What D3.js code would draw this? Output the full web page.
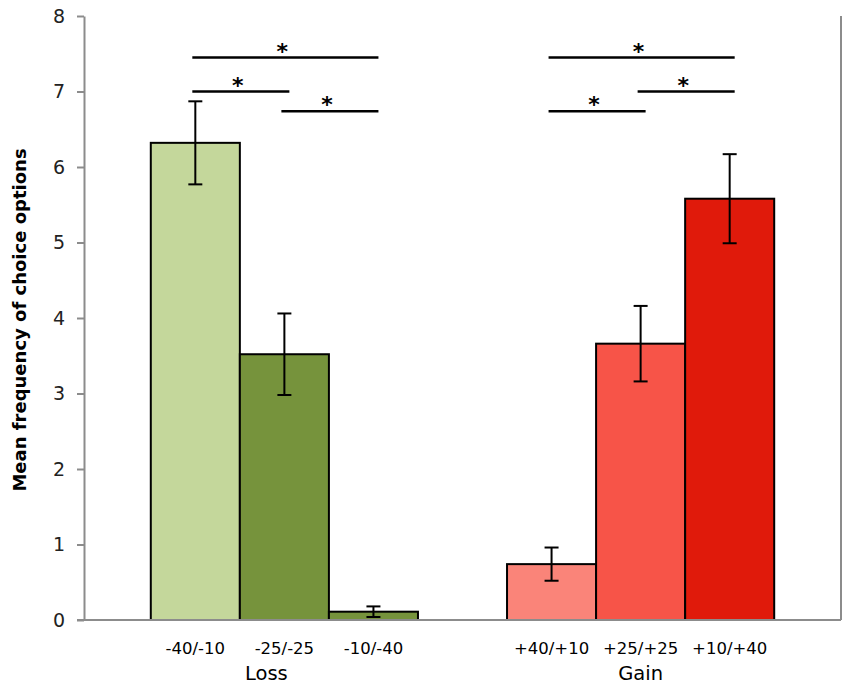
<!DOCTYPE html>
<html>
<head>
<meta charset="utf-8">
<script src="https://cdn.jsdelivr.net/npm/d3@7"></script>
<style>
  body { margin: 0; background: #fff; }
  svg { display: block; }
</style>
</head>
<body>
<div id="chart"></div>
<script>
// Bar data (left to right; the empty slot is the gap between the groups)
const slots = ["-40/-10", "-25/-25", "-10/-40", "gap", "+40/+10", "+25/+25", "+10/+40"];
const barLabels = ["-40/-10", "-25/-25", "-10/-40", "+40/+10", "+25/+25", "+10/+40"];
const barMeans = [6.32, 3.52, 0.11, 0.74, 3.66, 5.58];
const barErrors = [0.55, 0.54, 0.07, 0.22, 0.50, 0.59];
const barColors = ["#c4d79b", "#76933c", "#76933c", "#fa8479", "#f75448", "#e01a0b"];

const groupNames = ["Loss", "Gain"];
const groupMembers = [["-40/-10", "-25/-25", "-10/-40"], ["+40/+10", "+25/+25", "+10/+40"]];

// Significance brackets: from bar, to bar, height in y units
const sigFrom = ["-40/-10", "-40/-10", "-25/-25", "+40/+10", "+25/+25", "+40/+10"];
const sigTo = ["-10/-40", "-25/-25", "-10/-40", "+10/+40", "+10/+40", "+25/+25"];
const sigLevel = [7.45, 7.0, 6.74, 7.45, 7.0, 6.74];

const yTicks = [0, 1, 2, 3, 4, 5, 6, 7, 8];

const width = 850, height = 690;
const margin = { top: 16, right: 9, bottom: 70, left: 84 };
const font = "'DejaVu Sans', Verdana, sans-serif";

const svg = d3.select("#chart").append("svg")
    .attr("width", width)
    .attr("height", height);

svg.append("rect")
    .attr("width", width)
    .attr("height", height)
    .attr("fill", "#fff");

const x = d3.scaleBand()
    .domain(slots)
    .range([margin.left, width - margin.right])
    .paddingInner(0)
    .paddingOuter(0.75);

const y = d3.scaleLinear()
    .domain([0, 8])
    .range([height - margin.bottom, margin.top]);

const cx = d => x(d) + x.bandwidth() / 2;

// Y axis
const yAxis = svg.append("g")
    .attr("transform", `translate(${margin.left},0)`)
    .call(d3.axisLeft(y).tickValues(yTicks).tickSize(7).tickSizeOuter(0).tickPadding(12));
yAxis.select(".domain").attr("stroke", "#8c8c8c").attr("stroke-width", 2);
yAxis.selectAll(".tick line").attr("stroke", "#8c8c8c").attr("stroke-width", 2);
yAxis.selectAll(".tick text")
    .attr("font-family", font)
    .attr("font-size", "19px")
    .attr("fill", "#222");

// Right frame line
svg.append("line")
    .attr("x1", width - margin.right).attr("x2", width - margin.right)
    .attr("y1", y(8)).attr("y2", y(0))
    .attr("stroke", "#8c8c8c")
    .attr("stroke-width", 2);

// Bars
svg.selectAll(".bar")
    .data(barLabels)
    .enter().append("rect")
    .attr("class", "bar")
    .attr("x", d => x(d))
    .attr("y", (d, i) => y(barMeans[i]))
    .attr("width", x.bandwidth())
    .attr("height", (d, i) => y(0) - y(barMeans[i]))
    .attr("fill", (d, i) => barColors[i])
    .attr("stroke", "#000")
    .attr("stroke-width", 2);

// Baseline
svg.append("line")
    .attr("x1", margin.left - 7).attr("x2", width - margin.right)
    .attr("y1", y(0)).attr("y2", y(0))
    .attr("stroke", "#8c8c8c")
    .attr("stroke-width", 2);

// Error bars
const capHalf = 7;
barLabels.forEach((d, i) => {
    const top = y(barMeans[i] + barErrors[i]);
    const bot = y(Math.max(0, barMeans[i] - barErrors[i]));
    const g = svg.append("g").attr("stroke", "#000").attr("stroke-width", 2);
    g.append("line").attr("x1", cx(d)).attr("x2", cx(d)).attr("y1", top).attr("y2", bot);
    g.append("line").attr("x1", cx(d) - capHalf).attr("x2", cx(d) + capHalf).attr("y1", top).attr("y2", top);
    g.append("line").attr("x1", cx(d) - capHalf).attr("x2", cx(d) + capHalf).attr("y1", bot).attr("y2", bot);
});

// Significance lines and stars
sigLevel.forEach((lv, i) => {
    const x1 = cx(sigFrom[i]) - 3;
    const x2 = cx(sigTo[i]) + 5;
    svg.append("line")
        .attr("x1", x1).attr("x2", x2)
        .attr("y1", y(lv)).attr("y2", y(lv))
        .attr("stroke", "#000")
        .attr("stroke-width", 2.5);
    svg.append("text")
        .attr("x", (x1 + x2) / 2 - 3)
        .attr("y", y(lv) + 1)
        .attr("text-anchor", "middle")
        .attr("font-family", font)
        .attr("font-size", "22px")
        .attr("font-weight", "bold")
        .attr("fill", "#000")
        .text("*");
});

// Category labels
svg.selectAll(".cat-label")
    .data(barLabels)
    .enter().append("text")
    .attr("class", "cat-label")
    .attr("x", d => cx(d))
    .attr("y", y(0) + 34)
    .attr("text-anchor", "middle")
    .attr("font-family", font)
    .attr("font-size", "16.5px")
    .attr("fill", "#000")
    .text(d => d);

// Group labels
groupNames.forEach((name, i) => {
    const members = groupMembers[i];
    const mid = (cx(members[0]) + cx(members[members.length - 1])) / 2;
    svg.append("text")
        .attr("x", i === 0 ? mid - 18 : mid)
        .attr("y", y(0) + 60)
        .attr("text-anchor", "middle")
        .attr("font-family", font)
        .attr("font-size", "19.5px")
        .attr("fill", "#000")
        .text(name);
});

// Y axis title
svg.append("text")
    .attr("transform", `translate(26,${(y(0) + y(8)) / 2 + 2}) rotate(-90)`)
    .attr("text-anchor", "middle")
    .attr("font-family", font)
    .attr("font-size", "18px")
    .attr("font-weight", "bold")
    .attr("fill", "#000")
    .text("Mean frequency of choice options");
</script>
</body>
</html>
